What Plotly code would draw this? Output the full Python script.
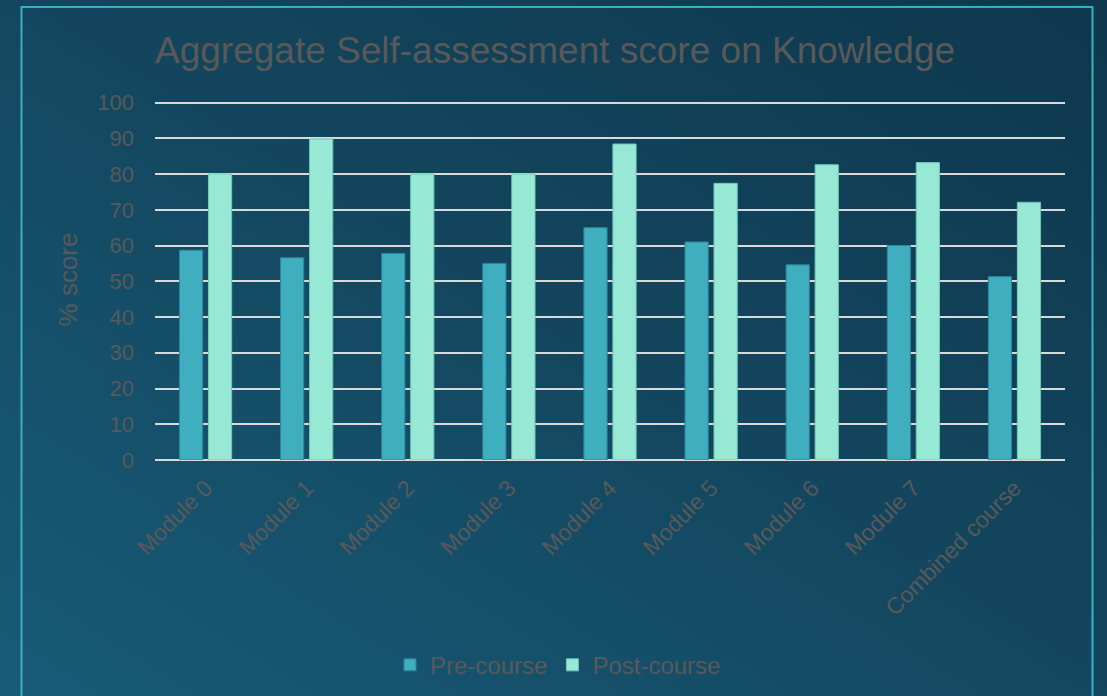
import base64
import plotly.graph_objects as go

categories = ["Module 0", "Module 1", "Module 2", "Module 3", "Module 4",
              "Module 5", "Module 6", "Module 7", "Combined course"]
pre_course = [58.7, 56.6, 57.8, 55.0, 65.0, 61.0, 54.6, 60.0, 51.3]
post_course = [80.0, 89.8, 80.0, 80.0, 88.4, 77.4, 82.6, 83.2, 72.1]
y_ticks = [0, 10, 20, 30, 40, 50, 60, 70, 80, 90, 100]

W, H = 1107, 696
y_max = 101
unit = 3.57
L, R, B = 155, 42, 236
ph = unit * y_max
T = H - B - ph
pw = W - L - R

svg = f'''<svg xmlns="http://www.w3.org/2000/svg" width="{W}" height="{H}" viewBox="0 0 {W} {H}">
<defs><linearGradient id="g" x1="0" y1="1" x2="1" y2="0">
<stop offset="0" stop-color="#185B78"/><stop offset="0.5" stop-color="#13475F"/><stop offset="1" stop-color="#0E374D"/>
</linearGradient></defs>
<rect width="{W}" height="{H}" fill="url(#g)"/>
<rect x="21.5" y="7.5" width="1071" height="720" fill="none" stroke="#3DB0C2" stroke-width="2"/>
</svg>'''
src = "data:image/svg+xml;base64," + base64.b64encode(svg.encode()).decode()

font = "Arial, Liberation Sans, sans-serif"
gray = "#595959"

fig = go.Figure()
fig.add_trace(go.Bar(name="Pre-course", x=categories, y=pre_course,
                     marker=dict(color="#3FAEBE", line=dict(color="#2B8797", width=1))))
fig.add_trace(go.Bar(name="Post-course", x=categories, y=post_course,
                     marker=dict(color="#97E9D6", line=dict(color="#6FC9BA", width=1))))

fig.update_layout(
    width=W, height=H,
    margin=dict(l=L, r=R, t=T, b=B, autoexpand=False),
    paper_bgcolor="rgba(0,0,0,0)", plot_bgcolor="rgba(0,0,0,0)",
    barmode="group", bargap=0.426, bargroupgap=0.2,
    font=dict(family=font, color=gray, size=22),
    title=dict(text="Aggregate Self-assessment score on Knowledge",
               x=L / W, xanchor="left", y=1 - 50 / H, yanchor="middle",
               font=dict(size=37, color=gray, family=font)),
    xaxis=dict(tickangle=-45, tickfont=dict(size=23, color=gray), showgrid=False,
               showline=False, ticks="", ticklabelstandoff=9),
    yaxis=dict(range=[0, y_max], tickvals=y_ticks, showgrid=True, gridcolor="#D9D9D9",
               gridwidth=2, zeroline=True, zerolinecolor="#D9D9D9", zerolinewidth=2,
               ticks="", tickfont=dict(size=22, color=gray), ticklabelstandoff=20,
               title=dict(text="% score", font=dict(size=26, color=gray), standoff=12)),
    legend=dict(orientation="h", x=(558 - L) / pw, xanchor="center",
                y=-(665 - (T + ph)) / ph, yanchor="middle",
                font=dict(size=24, color=gray), bgcolor="rgba(0,0,0,0)"),
    images=[dict(source=src, xref="paper", yref="paper",
                 x=-L / pw, y=1 + T / ph, sizex=W / pw, sizey=H / ph,
                 xanchor="left", yanchor="top", sizing="stretch", layer="below")],
)

fig.write_html("out.html", config={"displayModeBar": False},
               post_script="document.body.style.margin='0';document.body.style.padding='0';"
                           "document.body.style.overflow='hidden';")
